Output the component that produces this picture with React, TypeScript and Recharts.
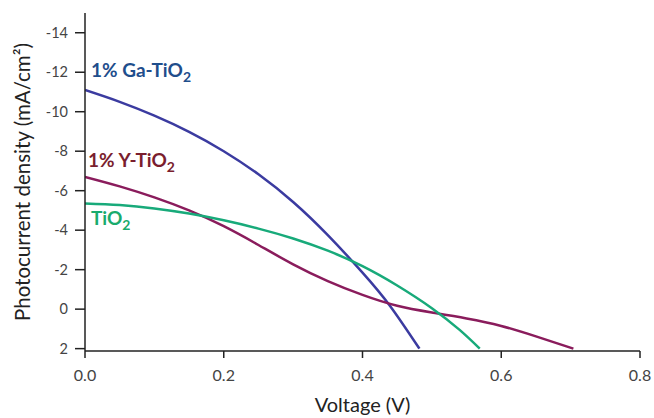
import { Customized, Line, LineChart, XAxis, YAxis } from "recharts";

// voltage (V) vs photocurrent density (mA/cm2)
const gaVoltage = [0, 0.05, 0.1, 0.15, 0.2, 0.25, 0.3, 0.35, 0.4, 0.44, 0.482];
const gaCurrent = [-11.1, -10.5, -9.8, -8.98, -8.0, -6.83, -5.43, -3.75, -1.85, -0.15, 2.0];

const yVoltage = [0, 0.05, 0.1, 0.15, 0.2, 0.25, 0.3, 0.35, 0.4, 0.45, 0.5, 0.55, 0.6, 0.65, 0.704];
const yCurrent = [-6.7, -6.22, -5.66, -5.0, -4.2, -3.25, -2.27, -1.42, -0.72, -0.17, 0.17, 0.47, 0.85, 1.38, 2.0];

const tiVoltage = [0, 0.05, 0.1, 0.15, 0.2, 0.25, 0.3, 0.35, 0.4, 0.45, 0.5, 0.54, 0.569];
const tiCurrent = [-5.35, -5.27, -5.1, -4.84, -4.5, -4.08, -3.58, -2.96, -2.18, -1.2, -0.05, 1.05, 2.0];

const xTicks = [0, 0.2, 0.4, 0.6, 0.8];
const yTicks = [-14, -12, -10, -8, -6, -4, -2, 0, 2];

const toPoints = (xs: number[], ys: number[]) => xs.map((v, i) => ({ v, j: ys[i] }));

const gaData = toPoints(gaVoltage, gaCurrent);
const yData = toPoints(yVoltage, yCurrent);
const tiData = toPoints(tiVoltage, tiCurrent);

const FONT = "Lato, 'Open Sans', sans-serif";

function SeriesLabels() {
  const common = { fontFamily: FONT, fontWeight: 700, fontSize: 19 };
  return (
    <g>
      <text x={91} y={77} fill="#1f4e8c" {...common}>
        1% Ga-TiO<tspan fontSize={14} dy={5}>2</tspan>
      </text>
      <text x={88} y={167} fill="#7a1e2e" {...common}>
        1% Y-TiO<tspan fontSize={14} dy={5}>2</tspan>
      </text>
      <text x={91} y={225} fill="#1aab6d" {...common}>
        TiO<tspan fontSize={14} dy={5}>2</tspan>
      </text>
    </g>
  );
}

export default function App() {
  return (
    <div style={{ position: "absolute", left: 0, top: 0, background: "#fff" }}>
      <LineChart
        width={654}
        height={418}
        margin={{ top: 13, right: 14, bottom: 37, left: 0 }}
      >
        <XAxis
          type="number"
          dataKey="v"
          domain={[0, 0.8]}
          ticks={xTicks}
          tickFormatter={(v: number) => v.toFixed(1)}
          height={30}
          stroke="#222"
          strokeWidth={1.5}
          tickSize={7}
          tickMargin={12}
          tick={{ fill: "#444", fontSize: 16, fontFamily: FONT }}
          allowDataOverflow
          label={{
            value: "Voltage (V)",
            position: "insideBottom",
            offset: -31,
            fill: "#222",
            fontSize: 20,
            fontFamily: FONT,
          }}
        />
        <YAxis
          type="number"
          dataKey="j"
          reversed
          domain={[-15, 2.12]}
          ticks={yTicks}
          width={85}
          stroke="#222"
          strokeWidth={1.5}
          tickSize={10}
          tickMargin={7}
          tick={{ fill: "#444", fontSize: 14.5, fontFamily: FONT }}
          allowDataOverflow
          label={{
            value: "Photocurrent density (mA/cm²)",
            angle: -90,
            position: "insideLeft",
            offset: 23,
            style: { textAnchor: "middle" },
            fill: "#222",
            fontSize: 20.5,
            fontFamily: FONT,
          }}
        />
        <Line
          data={gaData}
          dataKey="j"
          type="natural"
          stroke="#3b3ba0"
          strokeWidth={2.5}
          dot={false}
          isAnimationActive={false}
        />
        <Line
          data={yData}
          dataKey="j"
          type="natural"
          stroke="#8a1c5c"
          strokeWidth={2.5}
          dot={false}
          isAnimationActive={false}
        />
        <Line
          data={tiData}
          dataKey="j"
          type="natural"
          stroke="#18aa7a"
          strokeWidth={2.5}
          dot={false}
          isAnimationActive={false}
        />
        <Customized component={SeriesLabels} />
      </LineChart>
    </div>
  );
}
